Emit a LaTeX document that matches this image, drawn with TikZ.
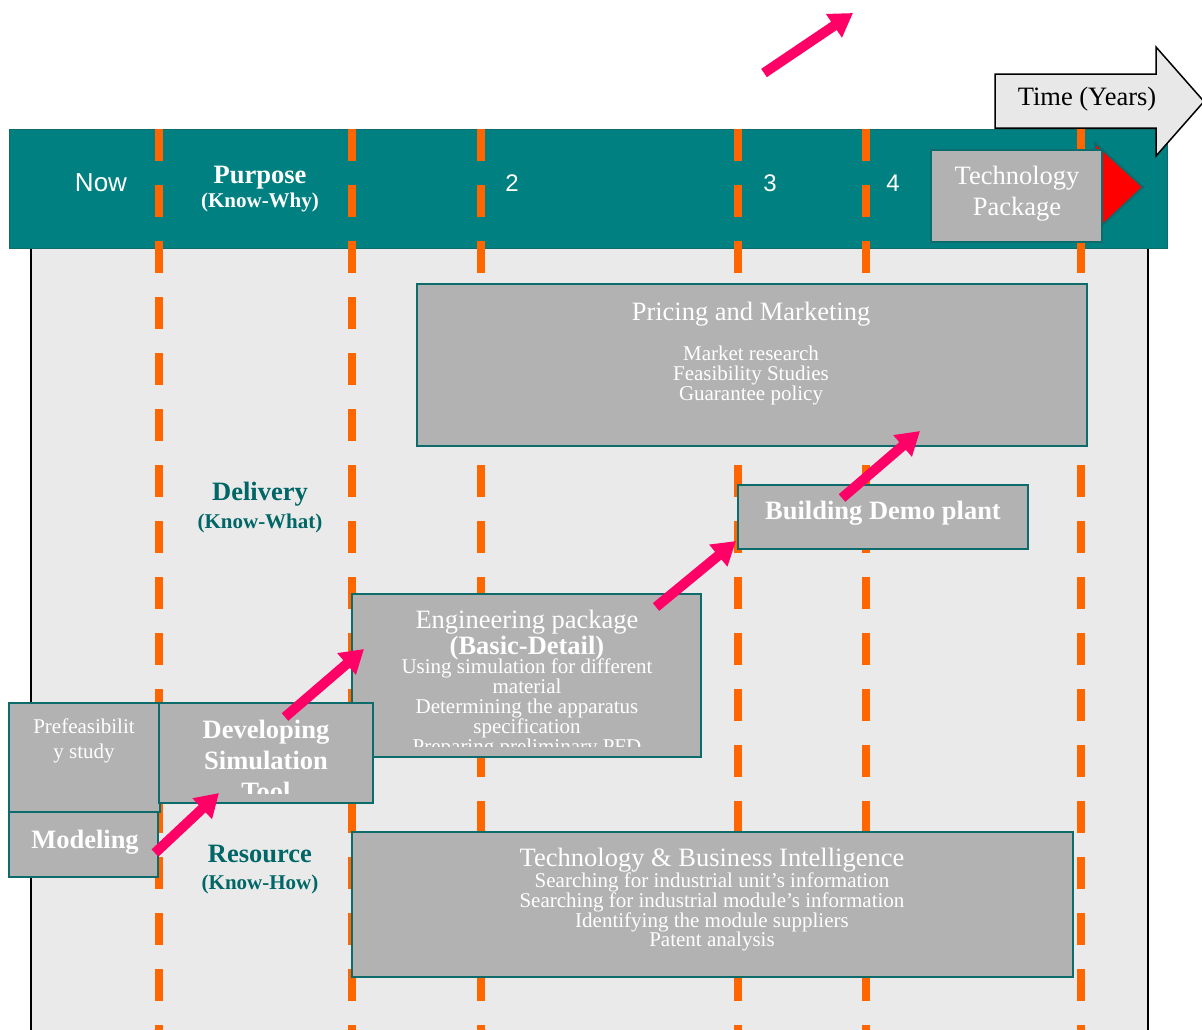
\documentclass[tikz,border=0pt]{standalone}
\usepackage{fontspec}
\setmainfont{Liberation Serif}
\newfontfamily\sansf{Liberation Sans}
\usetikzlibrary{arrows.meta}
\definecolor{tealband}{HTML}{008080}
\definecolor{tealdark}{HTML}{0E6B6B}
\definecolor{boxgray}{HTML}{B2B2B2}
\definecolor{panelgray}{HTML}{EAEAEA}
\definecolor{dashorange}{HTML}{FF6600}
\definecolor{arrowpink}{HTML}{FF0066}
\definecolor{labelteal}{HTML}{006666}
\definecolor{timegray}{HTML}{E8E8E8}
\begin{document}
\begin{tikzpicture}[x=1pt,y=-1pt,
  box/.style={draw=tealdark, line width=2.5pt, fill=boxgray, inner sep=0pt, outer sep=0pt, anchor=north west},
  big/.style={font=\fontsize{26.5}{26.5}\selectfont},
  small/.style={font=\fontsize{21}{21}\selectfont},
  bigb/.style={font=\fontsize{26.5}{26.5}\selectfont\bfseries},
  smallb/.style={font=\fontsize{21}{21}\selectfont\bfseries},
  wtxt/.style={text=white, inner sep=0pt, anchor=base},
  ttxt/.style={text=labelteal, inner sep=0pt, anchor=base},
  yeardash/.style={draw=dashorange, line width=7.5pt, dash pattern=on 32pt off 24pt},
  pinkarrow/.style={draw=arrowpink, line width=10pt, -{Triangle[width=27pt,length=23pt]}}
]
\useasboundingbox (0,0) rectangle (1202,1029);
\fill[white] (0,0) rectangle (1202,1029);
% background panel
\fill[panelgray] (31,248) rectangle (1148,1040);
\draw[black, line width=1.5pt] (31,248) -- (31,1040) (1148,248) -- (1148,1040);
% header band
\node[draw=tealdark, line width=1pt, fill=tealband, inner sep=0pt, outer sep=0pt, anchor=north west,
  minimum width=1158pt, minimum height=119pt] (band) at (9,129) {};
% dashed year lines
\foreach \xx [count=\i] in {159,352,481,738,866,1081}
  \draw[yeardash] (\xx,129) coordinate (d\i top) -- (\xx,1040) coordinate (d\i bot);
% red triangle
\fill[red, draw=tealdark, line width=2pt] (1095,143) -- (1143,187) -- (1095,232) -- cycle;
% technology package
\node[box, minimum width=171pt, minimum height=92pt] (tp) at (931,150) {};
\node[wtxt, big] (tp1) at (1017,184) {Technology};
\node[wtxt, big] (tp2) at (1017,215) {Package};
% time arrow
\draw[black, line width=1.5pt, fill=timegray, line join=miter]
  (995,74) -- (1156,74) -- (1156,47) -- (1204,101.5) -- (1156,156) -- (1156,128) -- (995,128) -- cycle;
\node[inner sep=0pt, anchor=base, big] (time) at (1087,105) {Time (Years)};
% header labels
\node[wtxt, font=\sansf\fontsize{26}{26}\selectfont] (now) at (101,191) {Now};
\node[wtxt, font=\sansf\fontsize{24}{24}\selectfont] (y2) at (512,191) {2};
\node[wtxt, font=\sansf\fontsize{24}{24}\selectfont] (y3) at (770,191) {3};
\node[wtxt, font=\sansf\fontsize{24}{24}\selectfont] (y4) at (893,191) {4};
\node[wtxt, bigb] (purp) at (260,183) {Purpose};
\node[wtxt, smallb] (purp2) at (260,207) {(Know-Why)};
% row labels
\node[ttxt, bigb] (deliv) at (260,500) {Delivery};
\node[ttxt, smallb] (deliv2) at (260,528) {(Know-What)};
\node[ttxt, bigb] (res) at (260,862) {Resource};
\node[ttxt, smallb] (res2) at (260,889) {(Know-How)};
% pricing and marketing
\node[box, minimum width=670pt, minimum height=162pt] (pm) at (417,284) {};
\node[wtxt, big] (pmt) at (751,320) {Pricing and Marketing};
\foreach \t [count=\i] in {Market research, Feasibility Studies, Guarantee policy}
  \node[wtxt, small] (pm\i) at (751,{340+20*\i}) {\t};
% building demo plant
\node[box, minimum width=290pt, minimum height=64pt] (bd) at (738,485) {};
\node[wtxt, bigb] (bdt) at (883,519) {Building Demo plant};
% engineering package
\node[box, minimum width=349pt, minimum height=163pt] (ep) at (352,594) {};
\begin{scope}
\clip (352,594) rectangle (702,746);
\node[wtxt, big] (ept) at (527,628) {Engineering package};
\node[wtxt, bigb] (epb) at (527,654) {(Basic-Detail)};
\foreach \t [count=\i] in {Using simulation for different, material, Determining the apparatus, specification, Preparing preliminary PFD}
  \node[wtxt, small] (ep\i) at (527,{654+19.8*\i}) {\t};
\end{scope}
% prefeasibility
\node[box, minimum width=151pt, minimum height=109pt] (pf) at (9,703) {};
\node[wtxt, small] (pf1) at (84,733) {Prefeasibilit};
\node[wtxt, small] (pf2) at (84,758) {y study};
% developing simulation tool
\node[box, minimum width=214pt, minimum height=100pt] (dst) at (159,703) {};
\begin{scope}
\clip (159,703) rectangle (372,793);
\node[wtxt, bigb] (dst1) at (266,738) {Developing};
\node[wtxt, bigb] (dst2) at (266,769) {Simulation};
\node[wtxt, bigb] (dst3) at (266,800) {Tool};
\end{scope}
% modeling
\node[box, minimum width=149pt, minimum height=65pt] (mod) at (9,812) {};
\node[wtxt, bigb] (modt) at (85,848) {Modeling};
% technology & business intelligence
\node[box, minimum width=721pt, minimum height=145pt] (tbi) at (352,832) {};
\node[wtxt, big] (tbit) at (712,866) {Technology \& Business Intelligence};
\foreach \t [count=\i] in {Searching for industrial unit’s information, Searching for industrial module’s information, Identifying the module suppliers, Patent analysis}
  \node[wtxt, small] (tbi\i) at (712,{868+19.7*\i}) {\t};
% pink arrows
\coordinate (a1s) at (155,853); \coordinate (a1e) at (219,793);
\coordinate (a2s) at (285,717); \coordinate (a2e) at (364,649);
\coordinate (a3s) at (656,607); \coordinate (a3e) at (736,541);
\coordinate (a4s) at (842,498); \coordinate (a4e) at (920,431);
\coordinate (a5s) at (764,73);  \coordinate (a5e) at (853,13);
\draw[pinkarrow] (a1s) -- (a1e);
\draw[pinkarrow] (a2s) -- (a2e);
\draw[pinkarrow] (a3s) -- (a3e);
\draw[pinkarrow] (a4s) -- (a4e);
\draw[pinkarrow] (a5s) -- (a5e);
\end{tikzpicture}
\end{document}
